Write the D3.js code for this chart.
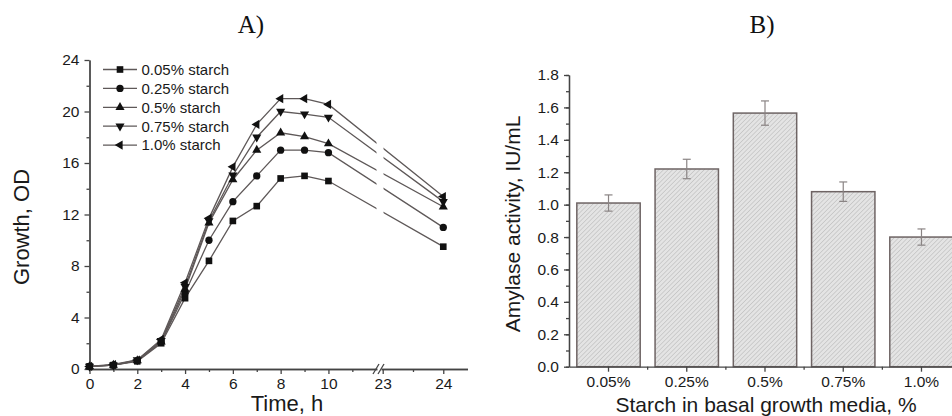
<html>
<head>
<script src="https://d3js.org/d3.v7.min.js"></script>
<style>
  body { margin: 0; background: white; }
  .tick text { font: 15.5px "Liberation Sans", Arial, sans-serif; fill: #1a1a1a; }
  .domain, .tick line { stroke: #444; stroke-width: 1.3; }
  .title { font: 22px "Liberation Sans", Arial, sans-serif; fill: #1a1a1a; }
  .panel { font: 25px "Liberation Serif", "Times New Roman", serif; fill: #111; }
  .legend { font: 15px "Liberation Sans", Arial, sans-serif; fill: #1a1a1a; }
</style>
</head>
<body>
<svg width="952" height="416"></svg>
<script>
// panel A: growth curves
var times = [0, 1, 2, 3, 4, 5, 6, 7, 8, 9, 10, 24];
var seriesNames = ["0.05% starch", "0.25% starch", "0.5% starch", "0.75% starch", "1.0% starch"];
var growth005 = [0.2, 0.3, 0.6, 2.0, 5.5, 8.4, 11.5, 12.65, 14.8, 15.0, 14.6, 9.5];
var growth025 = [0.2, 0.3, 0.65, 2.1, 5.9, 10.0, 13.0, 15.0, 17.0, 17.0, 16.8, 11.0];
var growth05 = [0.2, 0.3, 0.65, 2.1, 6.2, 11.35, 14.7, 17.0, 18.35, 18.05, 17.5, 12.6];
var growth075 = [0.2, 0.3, 0.7, 2.2, 6.4, 11.5, 15.05, 18.0, 20.0, 19.8, 19.55, 13.0];
var growth10 = [0.2, 0.35, 0.7, 2.3, 6.7, 11.7, 15.7, 19.0, 21.0, 21.0, 20.55, 13.4];
var timeTicks = [0, 2, 4, 6, 8, 10, 23, 24];
var timeMinor = [1, 3, 5, 7, 9, 11, 23.5];
var growthTicks = [0, 4, 8, 12, 16, 20, 24];
var growthMinor = [2, 6, 10, 14, 18, 22];

// panel B: amylase activity
var doses = ["0.05%", "0.25%", "0.5%", "0.75%", "1.0%"];
var activity = [1.01, 1.22, 1.565, 1.08, 0.80];
var activityErr = [0.05, 0.06, 0.075, 0.06, 0.05];
var activityTicks = [0, 0.2, 0.4, 0.6, 0.8, 1.0, 1.2, 1.4, 1.6, 1.8];

var svg = d3.select("svg");

var defs = svg.append("defs");
var pat = defs.append("pattern").attr("id", "hatch")
  .attr("width", 3.2).attr("height", 3.2)
  .attr("patternUnits", "userSpaceOnUse")
  .attr("patternTransform", "rotate(45)");
pat.append("rect").attr("width", 3.2).attr("height", 3.2).attr("fill", "#e4e4e4");
pat.append("line").attr("x1", 0).attr("y1", 0).attr("x2", 0).attr("y2", 3.2)
  .attr("stroke", "#b8b8b8").attr("stroke-width", 1.1);

// ---------- A ----------
var xA = d3.scaleLinear().domain([0, 12.2, 23, 24.4]).range([89.5, 381, 382.7, 467.5]);
var yA = d3.scaleLinear().domain([0, 24]).range([369, 60]);

svg.append("text").attr("class", "panel").attr("x", 251).attr("y", 33)
  .attr("text-anchor", "middle").text("A)");

var gA = svg.append("g");

gA.append("g").attr("transform", "translate(0,369)")
  .call(d3.axisBottom(xA).tickValues(timeMinor).tickSize(3).tickSizeOuter(0).tickFormat(""));
gA.append("g").attr("transform", "translate(0,369)")
  .call(d3.axisBottom(xA).tickValues(timeTicks).tickSize(5).tickSizeOuter(0).tickPadding(4));
gA.append("g").attr("transform", "translate(89.5,0)")
  .call(d3.axisLeft(yA).tickValues(growthMinor).tickSize(3).tickSizeOuter(0).tickFormat(""));
gA.append("g").attr("transform", "translate(89.5,0)")
  .call(d3.axisLeft(yA).tickValues(growthTicks).tickSize(5).tickSizeOuter(0).tickPadding(5));

var allSeries = [growth005, growth025, growth05, growth075, growth10];
var shapes = [
  {type: d3.symbolSquare, size: 44, rot: 0},
  {type: d3.symbolCircle, size: 42, rot: 0},
  {type: d3.symbolTriangle, size: 36, rot: 0},
  {type: d3.symbolTriangle, size: 36, rot: 180},
  {type: d3.symbolTriangle, size: 36, rot: -90}
];

var line = d3.line().x(function(d, i) { return xA(times[i]); }).y(function(d) { return yA(d); });

allSeries.forEach(function(s, k) {
  gA.append("path").datum(s).attr("d", line)
    .attr("fill", "none").attr("stroke", "#5e5858").attr("stroke-width", 1.3);
});

// gap in the curves at the axis break
gA.append("rect").attr("x", 376.5).attr("y", 60).attr("width", 7).attr("height", 300).attr("fill", "white");

allSeries.forEach(function(s, k) {
  var sym = d3.symbol().type(shapes[k].type).size(shapes[k].size);
  gA.append("g").selectAll("path").data(s).enter().append("path")
    .attr("d", sym)
    .attr("transform", function(d, i) {
      return "translate(" + xA(times[i]) + "," + yA(d) + ") rotate(" + shapes[k].rot + ")";
    })
    .attr("fill", "#111");
});

// axis break marks
gA.append("rect").attr("x", 377.5).attr("y", 365).attr("width", 4).attr("height", 8).attr("fill", "white");
[376, 381].forEach(function(bx) {
  gA.append("line").attr("x1", bx - 3).attr("y1", 374).attr("x2", bx + 3).attr("y2", 364)
    .attr("stroke", "#444").attr("stroke-width", 1.3);
});

// legend
var legend = gA.append("g");
seriesNames.forEach(function(name, k) {
  var ly = 69.5 + k * 18.9;
  legend.append("line").attr("x1", 103).attr("x2", 137).attr("y1", ly).attr("y2", ly)
    .attr("stroke", "#5e5858").attr("stroke-width", 1.3);
  legend.append("path")
    .attr("d", d3.symbol().type(shapes[k].type).size(shapes[k].size))
    .attr("transform", "translate(120," + ly + ") rotate(" + shapes[k].rot + ")")
    .attr("fill", "#111");
  legend.append("text").attr("class", "legend").attr("x", 141.5).attr("y", ly + 5.3).text(name);
});

gA.append("text").attr("class", "title")
  .attr("transform", "translate(29,227) rotate(-90)")
  .attr("text-anchor", "middle").text("Growth, OD");
gA.append("text").attr("class", "title")
  .attr("x", 287).attr("y", 411).attr("text-anchor", "middle").text("Time, h");

// ---------- B ----------
var xB = d3.scaleBand().domain(doses).range([569, 961]).paddingInner(0.19).paddingOuter(0.1);
var yB = d3.scaleLinear().domain([0, 1.8]).range([366.7, 75]);

svg.append("text").attr("class", "panel").attr("x", 762).attr("y", 33)
  .attr("text-anchor", "middle").text("B)");

var gB = svg.append("g");

gB.selectAll("rect.bar").data(activity).enter().append("rect")
  .attr("class", "bar")
  .attr("x", function(d, i) { return xB(doses[i]); })
  .attr("y", function(d) { return yB(d); })
  .attr("width", xB.bandwidth())
  .attr("height", function(d) { return yB(0) - yB(d); })
  .attr("fill", "url(#hatch)")
  .attr("stroke", "#6e6464").attr("stroke-width", 1.5);

var errG = gB.append("g").attr("stroke", "#8a8484").attr("stroke-width", 1.2);
activity.forEach(function(d, i) {
  var cx = xB(doses[i]) + xB.bandwidth() / 2;
  var top = yB(d + activityErr[i]), bot = yB(d - activityErr[i]);
  errG.append("line").attr("x1", cx).attr("x2", cx).attr("y1", top).attr("y2", bot);
  errG.append("line").attr("x1", cx - 4).attr("x2", cx + 4).attr("y1", top).attr("y2", top);
  errG.append("line").attr("x1", cx - 4).attr("x2", cx + 4).attr("y1", bot).attr("y2", bot);
});

// x axis with minor ticks between the bars
var xB2 = d3.scaleLinear().domain([0, 1]).range([569, 952]);
gB.append("g").attr("transform", "translate(0,366.7)")
  .call(d3.axisBottom(xB2).tickValues([]).tickSizeOuter(0));
var midTicks = doses.slice(1).map(function(d) { return xB(d) - xB.step() * xB.paddingInner() / 2; });
gB.append("g").selectAll("line").data(midTicks).enter().append("line")
  .attr("x1", function(d) { return d; }).attr("x2", function(d) { return d; })
  .attr("y1", 366.7).attr("y2", 369.7).attr("stroke", "#444").attr("stroke-width", 1.3);
var xAxisB = gB.append("g").attr("transform", "translate(0,366.7)")
  .call(d3.axisBottom(xB).tickSize(5).tickSizeOuter(0).tickPadding(4));
xAxisB.select(".domain").remove();

gB.append("g").attr("transform", "translate(569,0)")
  .call(d3.axisLeft(yB).ticks(18).tickSize(3).tickSizeOuter(0).tickFormat(""));
gB.append("g").attr("transform", "translate(569,0)")
  .call(d3.axisLeft(yB).tickValues(activityTicks).tickSize(5).tickSizeOuter(0).tickPadding(5)
    .tickFormat(d3.format(".1f")));

gB.append("text").attr("class", "title").style("font-size", "21px")
  .attr("transform", "translate(520,224) rotate(-90)")
  .attr("text-anchor", "middle").text("Amylase activity, IU/mL");
gB.append("text").attr("class", "title").style("font-size", "21px")
  .attr("x", 766).attr("y", 411.5).attr("text-anchor", "middle").text("Starch in basal growth media, %");
</script>
</body>
</html>
